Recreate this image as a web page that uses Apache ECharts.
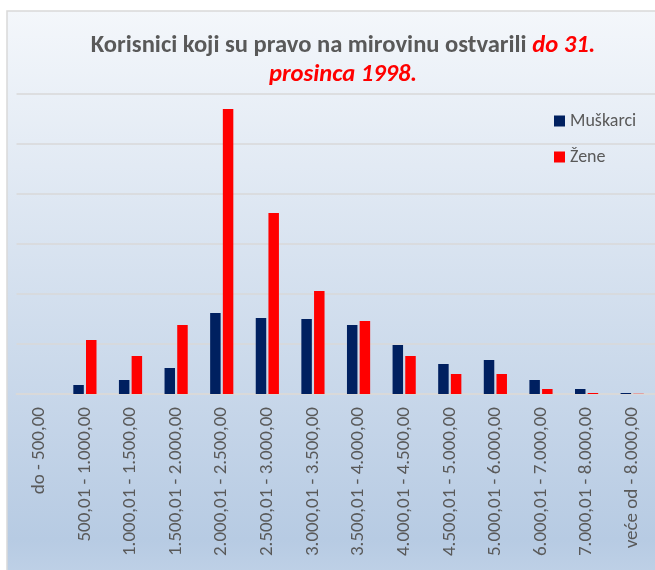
<!DOCTYPE html>
<html>
<head>
<meta charset="utf-8">
<script src="https://cdn.jsdelivr.net/npm/echarts@6/dist/echarts.min.js"></script>
<style>
  html, body { margin: 0; padding: 0; background: #ffffff; }
  #chart { width: 655px; height: 570px; }
</style>
</head>
<body>
<div id="chart"></div>
<script>
// Pension brackets (kn) and number of beneficiaries per bracket
const categories = [
  'do - 500,00',
  '500,01 - 1.000,00',
  '1.000,01 - 1.500,00',
  '1.500,01 - 2.000,00',
  '2.000,01 - 2.500,00',
  '2.500,01 - 3.000,00',
  '3.000,01 - 3.500,00',
  '3.500,01 - 4.000,00',
  '4.000,01 - 4.500,00',
  '4.500,01 - 5.000,00',
  '5.000,01 - 6.000,00',
  '6.000,01 - 7.000,00',
  '7.000,01 - 8.000,00',
  'veće od - 8.000,00'
];
const muskarci = [0, 1800, 2800, 5200, 16200, 15200, 15000, 13800, 9800, 6000, 6800, 2800, 1000, 200];
const zene     = [0, 10800, 7600, 13800, 57000, 36200, 20600, 14600, 7600, 4000, 4000, 1000, 200, 50];

const FONT = 'Carlito, Lato, "Open Sans", sans-serif';
const chart = echarts.init(document.getElementById('chart'), null, { renderer: 'canvas' });

chart.setOption({
  backgroundColor: '#ffffff',
  animation: false,
  graphic: [{
    type: 'rect',
    z: -10,
    silent: true,
    shape: { x: 7, y: 11, width: 700, height: 600 },
    style: {
      fill: new echarts.graphic.LinearGradient(0, 0, 0, 1, [
        { offset: 0, color: '#f4f7fb' },
        { offset: 0.88, color: '#b7cbe3' },
        { offset: 1, color: '#c6d6ea' }
      ]),
      stroke: '#d9d9d9',
      lineWidth: 1.5
    }
  }],
  title: {
    left: 338,
    top: 26,
    textAlign: 'center',
    text: '{a|Korisnici koji su pravo na mirovinu ostvarili }{b|do 31.}\n{b|prosinca 1998.}',
    textStyle: {
      rich: {
        a: { fontFamily: FONT, fontSize: 24.6, fontWeight: 'bold', color: '#595959', lineHeight: 29 },
        b: { fontFamily: FONT, fontSize: 24.6, fontWeight: 'bold', fontStyle: 'italic', color: '#ff0000', lineHeight: 29 }
      }
    }
  },
  legend: {
    orient: 'vertical',
    left: 554,
    top: 112,
    padding: 0,
    itemWidth: 11,
    itemHeight: 11,
    itemGap: 18,
    icon: 'rect',
    textStyle: { fontFamily: FONT, fontSize: 18, color: '#595959', lineHeight: 18 },
    data: ['Muškarci', 'Žene']
  },
  grid: { left: 16.5, right: -12, top: 94, bottom: 176, containLabel: false },
  xAxis: {
    type: 'category',
    data: categories,
    axisLine: { lineStyle: { color: '#d9d9d9', width: 2 } },
    axisTick: { show: false },
    axisLabel: {
      rotate: 90,
      interval: 0,
      margin: 13,
      fontFamily: FONT,
      fontSize: 19,
      color: '#595959'
    }
  },
  yAxis: {
    type: 'value',
    min: 0,
    max: 60000,
    interval: 10000,
    axisLabel: { show: false },
    axisLine: { show: false },
    axisTick: { show: false },
    splitLine: { lineStyle: { color: '#d9d9d9', width: 1.5 } }
  },
  series: [
    {
      name: 'Muškarci',
      type: 'bar',
      data: muskarci,
      barWidth: '23%',
      barGap: '21%',
      itemStyle: { color: '#002060' }
    },
    {
      name: 'Žene',
      type: 'bar',
      data: zene,
      barWidth: '23%',
      itemStyle: { color: '#ff0000' }
    }
  ]
});
</script>
</body>
</html>
